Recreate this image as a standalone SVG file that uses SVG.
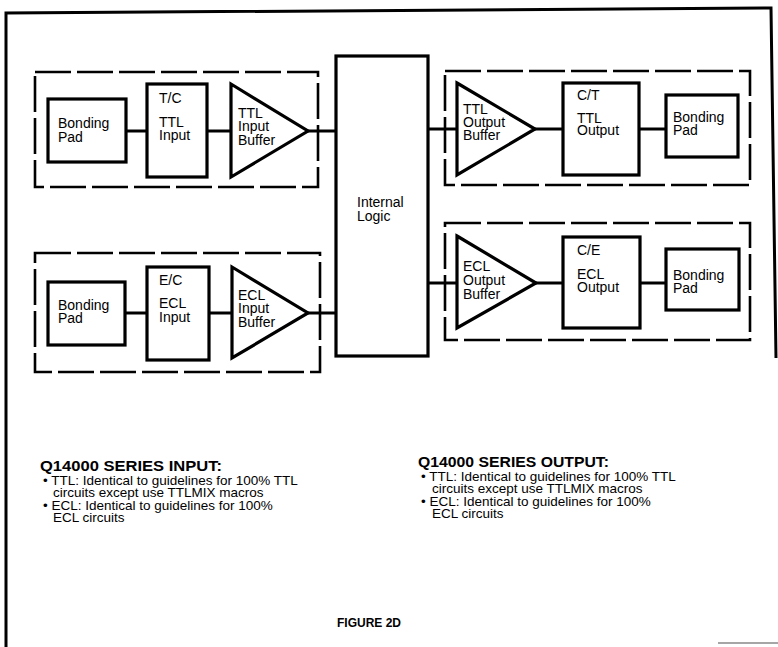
<svg xmlns="http://www.w3.org/2000/svg" width="778" height="647" viewBox="0 0 778 647">
<style>
.frame{fill:none;stroke:#000;stroke-width:3}
.box{fill:#fff;stroke:#000;stroke-width:3.2}
.dash{fill:none;stroke:#000;stroke-width:2.6;stroke-dasharray:36 6}
.wire{fill:none;stroke:#000;stroke-width:3}
.t{font-family:"Liberation Sans",Arial,sans-serif;font-size:14px;fill:#000}
.b{font-family:"Liberation Sans",Arial,sans-serif;font-size:13.5px;fill:#000}
.h{font-family:"Liberation Sans",Arial,sans-serif;font-size:15px;font-weight:bold;fill:#000}
.f{font-family:"Liberation Sans",Arial,sans-serif;font-size:12px;font-weight:bold;fill:#000}
</style>
<rect width="778" height="647" fill="#fff"/>
<g id="frame">
<polyline class="frame" points="6,647 6,13 771,8 776,358"/>
<line x1="718" y1="643" x2="778" y2="643" stroke="#888" stroke-width="1.5"/>
</g>
<g id="groups">
<rect id="ttl-input-group" class="dash" x="35" y="72" width="283" height="115"/>
<rect id="ecl-input-group" class="dash" x="35" y="253" width="285" height="119"/>
<rect id="ttl-output-group" class="dash" x="445" y="71" width="305" height="114"/>
<rect id="ecl-output-group" class="dash" x="445" y="223" width="305" height="117"/>
</g>
<g id="connectors">
<line class="wire" x1="126" y1="131" x2="147" y2="131"/>
<line class="wire" x1="207" y1="131" x2="231" y2="131"/>
<line class="wire" x1="308" y1="131" x2="336" y2="131"/>
<line class="wire" x1="125" y1="313" x2="147" y2="313"/>
<line class="wire" x1="209" y1="313" x2="232" y2="313"/>
<line class="wire" x1="308" y1="313" x2="336" y2="313"/>
<line class="wire" x1="428" y1="129" x2="457" y2="129"/>
<line class="wire" x1="535" y1="129" x2="563" y2="129"/>
<line class="wire" x1="639" y1="129" x2="666" y2="129"/>
<line class="wire" x1="428" y1="283" x2="457" y2="283"/>
<line class="wire" x1="536" y1="283" x2="563" y2="283"/>
<line class="wire" x1="640" y1="283" x2="666" y2="283"/>
</g>
<g id="logic">
<rect class="box" x="336" y="56" width="92" height="300"/>
<text class="t" x="357" y="207">Internal</text>
<text class="t" x="357" y="221">Logic</text>
</g>
<g id="pad-ttl-in">
<rect class="box" x="48" y="99" width="78" height="63"/>
<text class="t" x="58" y="128">Bonding</text>
<text class="t" x="58" y="142">Pad</text>
</g>
<g id="tc-ttl-input">
<rect class="box" x="147" y="84" width="60" height="93"/>
<text class="t" x="159" y="103">T/C</text>
<text class="t" x="159" y="127">TTL</text>
<text class="t" x="159" y="140">Input</text>
</g>
<g id="ttl-input-buffer">
<polygon class="box" points="231,84 308,131 231,177"/>
<text class="t" x="238" y="118">TTL</text>
<text class="t" x="238" y="131">Input</text>
<text class="t" x="238" y="145">Buffer</text>
</g>
<g id="pad-ecl-in">
<rect class="box" x="48" y="282" width="77" height="63"/>
<text class="t" x="58" y="310">Bonding</text>
<text class="t" x="58" y="323">Pad</text>
</g>
<g id="ec-ecl-input">
<rect class="box" x="147" y="267" width="62" height="93"/>
<text class="t" x="159" y="285">E/C</text>
<text class="t" x="159" y="308">ECL</text>
<text class="t" x="159" y="322">Input</text>
</g>
<g id="ecl-input-buffer">
<polygon class="box" points="232,267 308,313 232,358"/>
<text class="t" x="238" y="300">ECL</text>
<text class="t" x="238" y="313">Input</text>
<text class="t" x="238" y="327">Buffer</text>
</g>
<g id="ttl-output-buffer">
<polygon class="box" points="457,83 535,129 457,175"/>
<text class="t" x="463" y="114">TTL</text>
<text class="t" x="463" y="127">Output</text>
<text class="t" x="463" y="140">Buffer</text>
</g>
<g id="ct-ttl-output">
<rect class="box" x="563" y="83" width="76" height="92"/>
<text class="t" x="577" y="100">C/T</text>
<text class="t" x="577" y="123">TTL</text>
<text class="t" x="577" y="135">Output</text>
</g>
<g id="pad-ttl-out">
<rect class="box" x="666" y="95" width="72" height="62"/>
<text class="t" x="673" y="122">Bonding</text>
<text class="t" x="673" y="135">Pad</text>
</g>
<g id="ecl-output-buffer">
<polygon class="box" points="457,236 536,283 457,328"/>
<text class="t" x="463" y="271">ECL</text>
<text class="t" x="463" y="285">Output</text>
<text class="t" x="463" y="299">Buffer</text>
</g>
<g id="ce-ecl-output">
<rect class="box" x="563" y="237" width="77" height="91"/>
<text class="t" x="577" y="255">C/E</text>
<text class="t" x="577" y="279">ECL</text>
<text class="t" x="577" y="292">Output</text>
</g>
<g id="pad-ecl-out">
<rect class="box" x="666" y="249" width="73" height="61"/>
<text class="t" x="673" y="280">Bonding</text>
<text class="t" x="673" y="293">Pad</text>
</g>
<g id="notes-input">
<text class="h" x="40" y="471" textLength="182" lengthAdjust="spacingAndGlyphs">Q14000 SERIES INPUT:</text>
<text class="b" x="43" y="485">• TTL: Identical to guidelines for 100% TTL</text>
<text class="b" x="53" y="497">circuits except use TTLMIX macros</text>
<text class="b" x="43" y="510">• ECL: Identical to guidelines for 100%</text>
<text class="b" x="53" y="522">ECL circuits</text>
</g>
<g id="notes-output">
<text class="h" x="418" y="467" textLength="191" lengthAdjust="spacingAndGlyphs">Q14000 SERIES OUTPUT:</text>
<text class="b" x="421" y="481">• TTL: Identical to guidelines for 100% TTL</text>
<text class="b" x="432" y="493">circuits except use TTLMIX macros</text>
<text class="b" x="421" y="506">• ECL: Identical to guidelines for 100%</text>
<text class="b" x="432" y="518">ECL circuits</text>
</g>
<g id="caption">
<text class="f" x="337" y="627">FIGURE 2D</text>
</g>
</svg>
